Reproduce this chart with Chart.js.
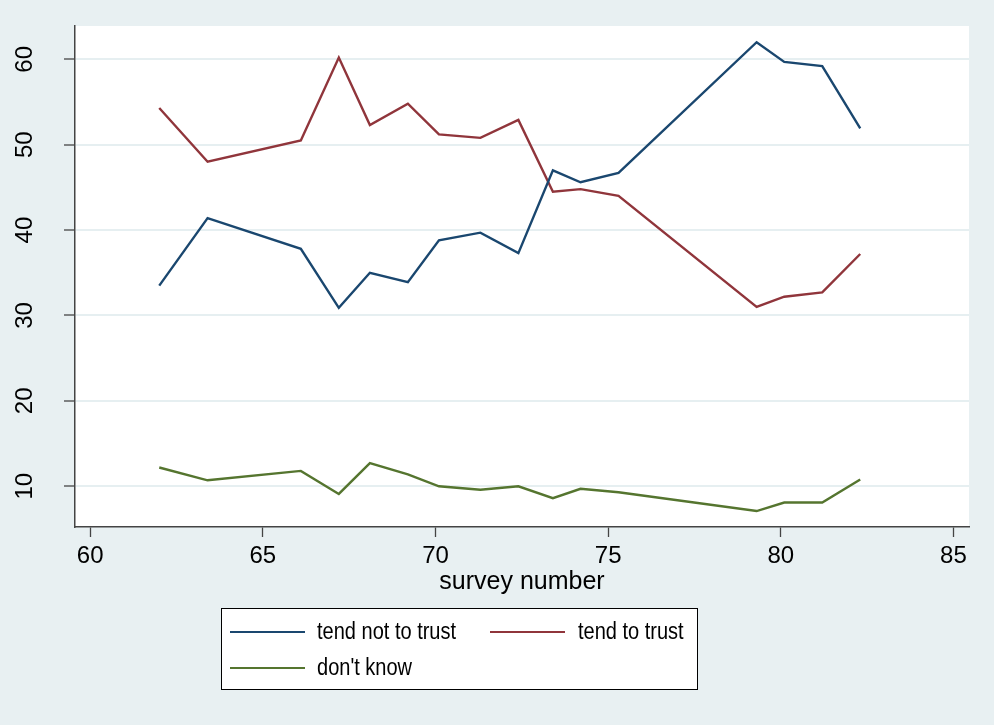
<!DOCTYPE html>
<html>
<head>
<meta charset="utf-8">
<title>Trust by survey number</title>
<script src="https://cdn.jsdelivr.net/npm/chart.js@4/dist/chart.umd.min.js"></script>
<style>
    html, body { margin: 0; padding: 0; background: #e8f0f2; }
    #wrap { width: 994px; height: 725px; }
</style>
</head>
<body>
<div id="wrap"><canvas id="trustChart" width="994" height="725"></canvas></div>
<script>
// Data
const surveyNumbers = [62.0, 63.4, 66.1, 67.2, 68.1, 69.2, 70.1, 71.3, 72.4, 73.4, 74.2, 75.3, 79.3, 80.1, 81.2, 82.3];
const tendNotToTrust = [33.5, 41.4, 37.8, 30.9, 35.0, 33.9, 38.8, 39.7, 37.3, 47.0, 45.6, 46.7, 62.0, 59.7, 59.2, 51.9];
const tendToTrust = [54.3, 48.0, 50.5, 60.2, 52.3, 54.8, 51.2, 50.8, 52.9, 44.5, 44.8, 44.0, 31.0, 32.2, 32.7, 37.2];
const dontKnow = [12.2, 10.7, 11.8, 9.1, 12.7, 11.4, 10.0, 9.6, 10.0, 8.6, 9.7, 9.3, 7.1, 8.1, 8.1, 10.8];
const seriesLabels = ['tend not to trust', 'tend to trust', "don't know"];
const seriesColors = ['#1a476f', '#90353b', '#55752f'];
const xTickValues = [60, 65, 70, 75, 80, 85];
const yTickValues = [10, 20, 30, 40, 50, 60];

const FONT = "'Liberation Sans', Arial, sans-serif";
const BG = '#e8f0f2';

function toPoints(values) {
    return surveyNumbers.map((x, i) => ({ x: x, y: values[i] }));
}

// Page background + white plot region
const backgroundPlugin = {
    id: 'stataBackground',
    beforeDraw(chart) {
        const { ctx, chartArea } = chart;
        ctx.save();
        ctx.fillStyle = BG;
        ctx.fillRect(0, 0, chart.width, chart.height);
        ctx.fillStyle = '#ffffff';
        ctx.fillRect(chartArea.left, chartArea.top, chartArea.right - chartArea.left, chartArea.bottom - chartArea.top);
        ctx.restore();
    }
};

// Vertical y labels, like Stata draws them
const yLabelPlugin = {
    id: 'yLabels',
    afterDraw(chart) {
        const { ctx } = chart;
        const yScale = chart.scales.y;
        ctx.save();
        ctx.fillStyle = '#000';
        ctx.font = '24px ' + FONT;
        ctx.textAlign = 'center';
        ctx.textBaseline = 'middle';
        yTickValues.forEach(v => {
            const py = yScale.getPixelForValue(v);
            ctx.save();
            ctx.translate(25, py);
            ctx.rotate(-Math.PI / 2);
            ctx.fillText(String(v), 0, 0);
            ctx.restore();
        });
        ctx.restore();
    }
};

// Boxed legend under the axis title
const legendBoxPlugin = {
    id: 'legendBox',
    afterDraw(chart) {
        const { ctx } = chart;
        const box = { x: 221, y: 608, w: 476, h: 81 };
        ctx.save();
        ctx.fillStyle = '#ffffff';
        ctx.fillRect(box.x, box.y, box.w, box.h);
        ctx.strokeStyle = '#000';
        ctx.lineWidth = 1;
        ctx.strokeRect(box.x + 0.5, box.y + 0.5, box.w, box.h);

        const slots = [
            { lx: 230, tx: 317, y: 632 },
            { lx: 490, tx: 578, y: 632 },
            { lx: 230, tx: 317, y: 668 }
        ];
        chart.data.datasets.forEach((ds, i) => {
            const s = slots[i];
            ctx.strokeStyle = ds.borderColor;
            ctx.lineWidth = 2.2;
            ctx.beginPath();
            ctx.moveTo(s.lx, s.y);
            ctx.lineTo(s.lx + 75, s.y);
            ctx.stroke();

            ctx.save();
            ctx.translate(s.tx, s.y);
            ctx.scale(0.87, 1);
            ctx.fillStyle = '#000';
            ctx.font = '23px ' + FONT;
            ctx.textAlign = 'left';
            ctx.textBaseline = 'middle';
            ctx.fillText(ds.label, 0, 1);
            ctx.restore();
        });
        ctx.restore();
    }
};

const ctx = document.getElementById('trustChart');
new Chart(ctx, {
    type: 'line',
    data: {
        datasets: [
            { label: seriesLabels[0], data: toPoints(tendNotToTrust), borderColor: seriesColors[0] },
            { label: seriesLabels[1], data: toPoints(tendToTrust), borderColor: seriesColors[1] },
            { label: seriesLabels[2], data: toPoints(dontKnow), borderColor: seriesColors[2] }
        ]
    },
    options: {
        responsive: false,
        animation: false,
        layout: { padding: { left: 0, top: 26, right: 25, bottom: 128 } },
        elements: {
            line: { borderWidth: 2.4, tension: 0, fill: false },
            point: { radius: 0, hoverRadius: 0 }
        },
        plugins: {
            legend: { display: false },
            tooltip: { enabled: false }
        },
        scales: {
            x: {
                type: 'linear',
                min: 59.56,
                max: 85.45,
                afterFit: scale => { scale.height = 70; },
                ticks: {
                    stepSize: 5,
                    includeBounds: false,
                    color: '#000',
                    font: { family: FONT, size: 24 },
                    padding: 5,
                    maxRotation: 0
                },
                grid: { drawOnChartArea: false, tickLength: 10, tickColor: '#444', tickWidth: 1.3 },
                border: { color: '#444', width: 1.5 },
                title: {
                    display: true,
                    text: 'survey number',
                    color: '#000',
                    font: { family: FONT, size: 25 },
                    padding: 0
                }
            },
            y: {
                type: 'linear',
                min: 5.23,
                max: 63.9,
                afterFit: scale => { scale.width = 75; },
                ticks: { stepSize: 10, includeBounds: false, display: false },
                grid: { color: '#e6eff1', lineWidth: 2, tickLength: 11, tickColor: '#444', tickWidth: 1.3 },
                border: { color: '#444', width: 1.5 }
            }
        }
    },
    plugins: [backgroundPlugin, yLabelPlugin, legendBoxPlugin]
});
</script>
</body>
</html>
